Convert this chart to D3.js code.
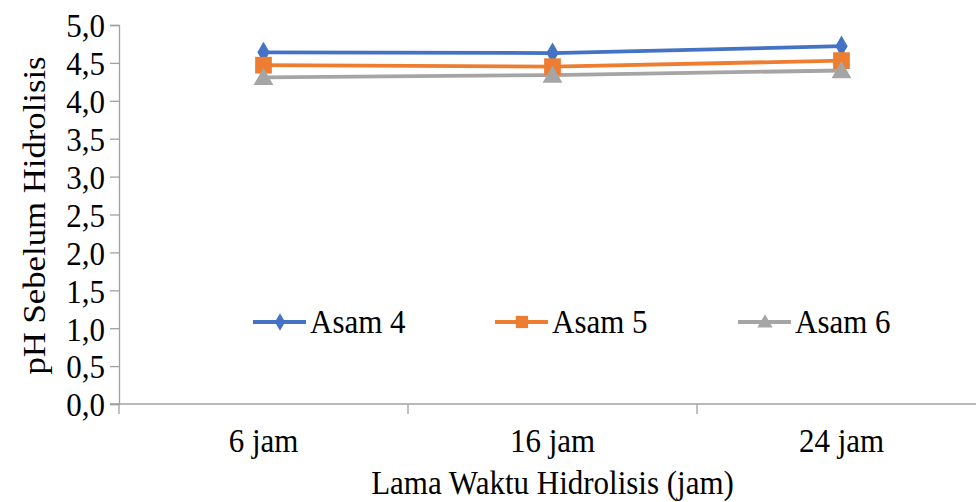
<!DOCTYPE html>
<html><head><meta charset="utf-8">
<script src="https://cdn.jsdelivr.net/npm/d3@7"></script>
<style>html,body{margin:0;padding:0;background:#fff;}svg{display:block;font-family:'Liberation Serif','Times New Roman',serif;}
svg text{font-family:'Liberation Serif','Times New Roman',serif !important;}</style>
</head><body>
<svg id="c" width="976" height="502"></svg>
<script>
const categories = ["6 jam", "16 jam", "24 jam"];
const seriesNames = ["Asam 4", "Asam 5", "Asam 6"];
const asam4 = [4.64, 4.63, 4.72];
const asam5 = [4.47, 4.45, 4.53];
const asam6 = [4.31, 4.34, 4.40];
const yTicks = [0, 0.5, 1, 1.5, 2, 2.5, 3, 3.5, 4, 4.5, 5];
const colors = ["#4472C4", "#ED7D31", "#A5A5A5"];
const symbols = [d3.symbolDiamond, d3.symbolSquare, d3.symbolTriangle];
const yTitle = "pH Sebelum Hidrolisis";
const xTitle = "Lama Waktu Hidrolisis (jam)";

const series = [asam4, asam5, asam6].map((v, i) => ({name: seriesNames[i], values: v, color: colors[i], symbol: symbols[i]}));

const svg = d3.select("#c");
const fs = 31, sy = 1.12;
const pLeft = 119, pRight = 986, pTop = 25, pBottom = 404;
const axisColor = "#a0a0a0";

const x = d3.scaleBand().domain(categories).range([pLeft, pRight]).padding(0);
const y = d3.scaleLinear().domain([0, 5]).range([pBottom, pTop]);

// Y axis
const yAxis = svg.append("g").attr("transform", `translate(${pLeft},0)`)
  .call(d3.axisLeft(y).tickValues(yTicks).tickSize(9).tickPadding(5)
    .tickFormat(d => d3.format(".1f")(d).replace(".", ",")));
yAxis.attr("font-family", null).attr("font-size", null);
yAxis.select(".domain").attr("stroke", axisColor).attr("stroke-width", 1.3);
yAxis.selectAll(".tick line").attr("stroke", axisColor).attr("stroke-width", 1.3);
yAxis.selectAll(".tick text").attr("font-size", fs).attr("fill", "#000")
  .attr("dy", "0.34em").attr("transform", `scale(1,${sy})`);

// X axis
const xAxis = svg.append("g").attr("transform", `translate(0,${pBottom})`)
  .call(d3.axisBottom(x).tickSize(0).tickPadding(0));
xAxis.attr("font-family", null).attr("font-size", null);
xAxis.select(".domain").attr("stroke", axisColor).attr("stroke-width", 1.3)
  .attr("d", `M${pLeft - 9},0H${pRight}`);
xAxis.selectAll(".tick text").attr("font-size", fs).attr("fill", "#000")
  .attr("y", 48 / sy).attr("dy", 0).attr("transform", `scale(1,${sy})`);
const bounds = categories.map(c => x(c)).concat([x(categories[categories.length - 1]) + x.bandwidth()]);
xAxis.selectAll(".btick").data(bounds).enter().append("line")
  .attr("x1", d => d).attr("x2", d => d).attr("y1", 0).attr("y2", 10)
  .attr("stroke", axisColor).attr("stroke-width", 1.3);

// Axis titles
svg.append("text").attr("transform", `translate(45,${(pTop + pBottom) / 2 + 1}) scale(1,${sy}) rotate(-90)`)
  .attr("text-anchor", "middle").attr("font-size", fs).attr("fill", "#000").text(yTitle);
svg.append("text").attr("transform", `translate(${(pLeft + 986) / 2},494) scale(1,${sy})`)
  .attr("text-anchor", "middle").attr("font-size", fs).attr("fill", "#000").text(xTitle);

// Lines and markers
const cx = c => x(c) + x.bandwidth() / 2;
const line = d3.line().x((d, i) => cx(categories[i])).y(d => y(d));
series.forEach(s => {
  svg.append("path").datum(s.values).attr("d", line).attr("fill", "none")
    .attr("stroke", s.color).attr("stroke-width", 3.8).attr("stroke-linejoin", "round");
});
series.forEach(s => {
  const sym = d3.symbol().type(s.symbol).size(s.symbol === d3.symbolSquare ? 280 : s.symbol === d3.symbolDiamond ? 130 : 170);
  svg.append("g").selectAll("path").data(s.values).enter().append("path")
    .attr("d", sym)
    .attr("transform", (d, i) => `translate(${cx(categories[i])},${y(d) + (s.symbol === d3.symbolTriangle ? 2 : 0)})`)
    .attr("fill", s.color);
});

// Legend
const legX = [253, 495, 738], legY = 322;
series.forEach((s, i) => {
  const g = svg.append("g").attr("transform", `translate(${legX[i]},${legY})`);
  g.append("line").attr("x1", 0).attr("x2", 53).attr("y1", 0).attr("y2", 0)
    .attr("stroke", s.color).attr("stroke-width", 3.8);
  const sym = d3.symbol().type(s.symbol).size(s.symbol === d3.symbolSquare ? 150 : s.symbol === d3.symbolDiamond ? 90 : 100);
  g.append("path").attr("d", sym).attr("transform", `translate(27,${s.symbol === d3.symbolTriangle ? 1 : 0})`).attr("fill", s.color);
  g.append("text").attr("transform", `translate(57,11) scale(1,${sy})`)
    .attr("font-size", fs).attr("fill", "#000").text(s.name);
});
</script>
</body></html>
